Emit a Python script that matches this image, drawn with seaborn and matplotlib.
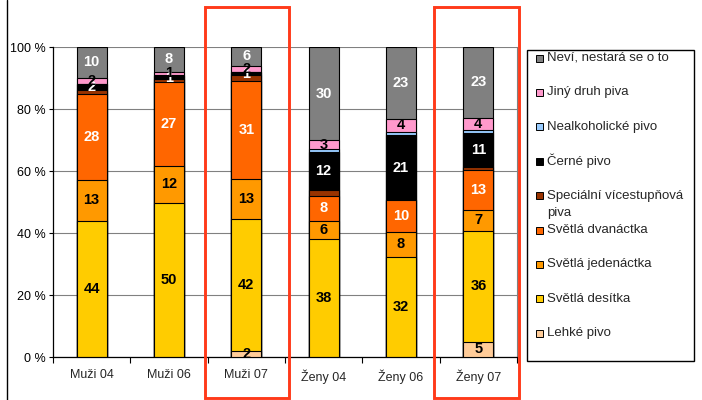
import matplotlib
matplotlib.use("Agg")
import matplotlib.pyplot as plt
from matplotlib.patches import Rectangle
from matplotlib.lines import Line2D
import numpy as np
import pandas as pd
import seaborn as sns

# ------------------------------------------------------------------ #
# Data (percent of respondents, stacked bottom -> top)
# ------------------------------------------------------------------ #
groups = ["Muži 04", "Muži 06", "Muži 07", "Ženy 04", "Ženy 06", "Ženy 07"]
series = ["Lehké pivo", "Světlá desítka", "Světlá jedenáctka", "Světlá dvanáctka",
          "Speciální vícestupňová\npiva", "Černé pivo", "Nealkoholické pivo",
          "Jiný druh piva", "Neví, nestará se o to"]

lehke = [0, 0, 2, 0, 0, 5]
desitka = [44, 50, 42, 38, 32, 36]
jedenactka = [13, 12, 13, 6, 8, 7]
dvanactka = [28, 27, 31, 8, 10, 13]
specialni = [1, 1, 2, 2, 0, 1]
cerne = [2, 1, 1, 12, 21, 11]
nealko = [0, 0.5, 0, 1, 1, 1]
jiny = [2, 1, 2, 3, 4, 4]
nevi = [10, 8, 6, 30, 23, 23]

colors = ["#FFCC99", "#FFCC00", "#FF9900", "#FF6600", "#993300",
          "#000000", "#99CCFF", "#FF99CC", "#808080"]
# None = segment not labelled
label_colors = ["black", "black", "black", "white", None,
                "white", None, "black", "white"]

df = pd.DataFrame(
    [lehke, desitka, jedenactka, dvanactka, specialni, cerne, nealko, jiny, nevi],
    index=series, columns=groups,
).T
# 100 % stacked, like the original spreadsheet chart
pct = df.div(df.sum(axis=1), axis=0) * 100
cum = pct.cumsum(axis=1)

sns.set_style("white")
plt.rcParams["font.family"] = ["Liberation Sans", "DejaVu Sans"]

W, H = 702, 400
fig = plt.figure(figsize=(W / 100, H / 100), dpi=100)
ax = fig.add_axes([53 / W, 1 - 357 / H, 464 / W, 310 / H])

# draw cumulative bars from the top series down so lower ones overlay
for s, c in zip(series[::-1], colors[::-1]):
    sns.barplot(x=groups, y=cum[s].values, color=c, saturation=1, width=0.39,
                edgecolor="black", linewidth=0.8, errorbar=None, ax=ax, zorder=3)

bottoms = cum - pct
for j, (s, lc) in enumerate(zip(series, label_colors)):
    if lc is None:
        continue
    for i, g in enumerate(groups):
        v = df.loc[g, s]
        if v <= 0:
            continue
        ax.text(i, bottoms.loc[g, s] + pct.loc[g, s] / 2, f"{v:g}", ha="center",
                va="center", fontsize=10.5, fontweight="bold", color=lc, zorder=5)

ax.set_xlim(-0.5, 5.5)
ax.set_ylim(0, 100)
ax.set_yticks(range(0, 101, 20))
ax.set_yticklabels([f"{t} %" for t in range(0, 101, 20)])
ax.set_xticks(range(len(groups)))
ax.set_xticklabels(groups)
ax.set_xticks(np.arange(-0.5, 6, 1), minor=True)
ax.set_xlabel("")
ax.set_ylabel("")
ax.yaxis.grid(True, color="#808080", linewidth=0.8)
ax.set_axisbelow(True)
ax.tick_params(axis="y", left=True, length=3, width=0.8, pad=2.5, labelsize=9,
               colors="black")
ax.tick_params(axis="x", which="major", bottom=True, length=0, pad=9, labelsize=9)
ax.tick_params(axis="x", which="minor", bottom=True, length=4, width=0.8,
               color="black")
for side in ["left", "bottom"]:
    ax.spines[side].set_color("black")
    ax.spines[side].set_linewidth(0.9)
ax.spines["right"].set_color("#808080")
ax.spines["right"].set_linewidth(0.8)
ax.spines["top"].set_visible(False)


def px(x, y):
    return x / W, 1 - y / H


# legend box
x0, y0 = px(527, 361)
fig.add_artist(Rectangle((x0, y0), (694 - 527) / W, (361 - 50) / H,
                         transform=fig.transFigure, facecolor="white",
                         edgecolor="black", linewidth=1))
for k, (s, c) in enumerate(zip(series[::-1], colors[::-1])):
    yc = 58 + 34.4 * k
    sx, sy = px(536, yc + 3.5)
    fig.add_artist(Rectangle((sx, sy), 7 / W, 7 / H, transform=fig.transFigure,
                             facecolor=c, edgecolor="black", linewidth=0.7))
    for n, line in enumerate(s.split("\n")):
        tx, ty = px(547, yc + n * 17)
        fig.text(tx, ty, line, fontsize=9.5, va="center", ha="left")

# outer chart border (left edge)
fig.add_artist(Line2D([6.5 / W] * 2, [0, 1], color="black", linewidth=1))

# red highlight boxes around the 2007 bars
for left, right in [(205, 289), (434, 519)]:
    bx, by = px(left, 398)
    fig.add_artist(Rectangle((bx, by), (right - left) / W, (398 - 7) / H,
                             transform=fig.transFigure, fill=False,
                             edgecolor="#FF3A1A", linewidth=2.1, zorder=10))

fig.savefig("out.png", dpi=100)
